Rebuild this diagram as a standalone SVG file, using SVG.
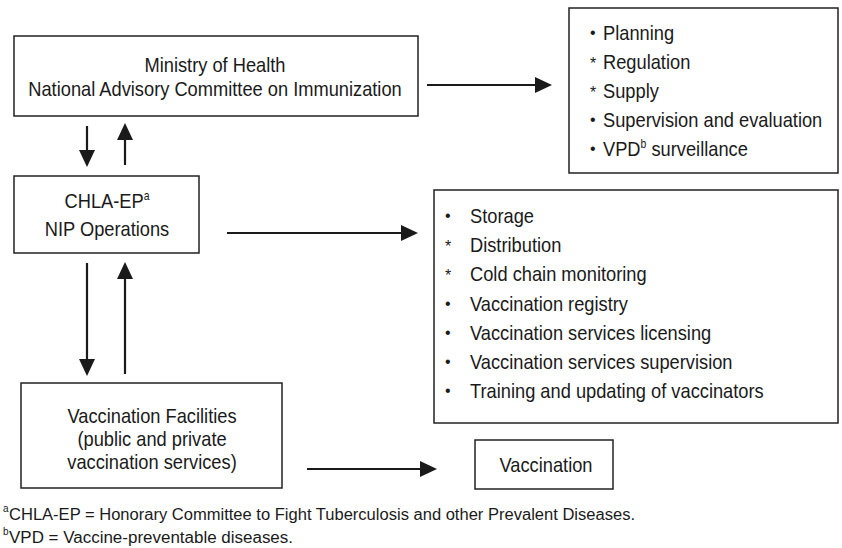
<svg xmlns="http://www.w3.org/2000/svg" width="842" height="548" viewBox="0 0 842 548">
  <style>
    .box { fill: #ffffff; stroke: #222222; stroke-width: 1.5; }
    .t { font-family: "Liberation Sans", Arial, Helvetica, sans-serif; font-size: 21px; fill: #1a1a1a; }
    .b { font-family: "Liberation Sans", Arial, Helvetica, sans-serif; font-size: 16px; fill: #1a1a1a; }
    .c { text-anchor: middle; }
    .sup { font-size: 12px; }
    .fn { font-family: "Liberation Sans", Arial, Helvetica, sans-serif; font-size: 16px; fill: #1a1a1a; }
    .fnsup { font-family: "Liberation Sans", Arial, Helvetica, sans-serif; font-size: 10px; fill: #1a1a1a; }
    .conn line { stroke: #1a1a1a; stroke-width: 2.2; marker-end: url(#head); }
  </style>
  <defs>
    <marker id="head" markerUnits="userSpaceOnUse" markerWidth="17" markerHeight="16" refX="7" refY="8" orient="auto">
      <path d="M0,0 L17,8 L0,16 Z" fill="#1a1a1a"/>
    </marker>
  </defs>

  <!-- Ministry of Health -->
  <g id="ministry">
    <rect class="box" x="14" y="36" width="404" height="80"/>
    <g transform="translate(215,0) scale(0.87,1)">
      <text class="t c" x="0" y="72">Ministry of Health</text>
      <text class="t c" x="0" y="96">National Advisory Committee on Immunization</text>
    </g>
  </g>

  <!-- Planning / regulation functions -->
  <g id="ministry-functions">
    <rect class="box" x="569" y="8" width="269" height="165"/>
    <g transform="translate(590,0)">
      <text class="b" x="0" y="38">•</text>
      <text class="b" x="0" y="69">*</text>
      <text class="b" x="0" y="98">*</text>
      <text class="b" x="0" y="125">•</text>
      <text class="b" x="0" y="154">•</text>
    </g>
    <g transform="translate(603,0) scale(0.87,1)">
      <text class="t" x="0" y="40">Planning</text>
      <text class="t" x="0" y="69">Regulation</text>
      <text class="t" x="0" y="98">Supply</text>
      <text class="t" x="0" y="127">Supervision and evaluation</text>
      <text class="t" x="0" y="156">VPD<tspan class="sup" dy="-8">b</tspan><tspan dy="8"> surveillance</tspan></text>
    </g>
  </g>

  <!-- CHLA-EP -->
  <g id="chla">
    <rect class="box" x="14" y="176" width="185" height="77"/>
    <g transform="translate(107,0) scale(0.87,1)">
      <text class="t c" x="0" y="208">CHLA-EP<tspan class="sup" dy="-8">a</tspan></text>
      <text class="t c" x="0" y="236">NIP Operations</text>
    </g>
  </g>

  <!-- Operational functions -->
  <g id="operations">
    <rect class="box" x="434" y="190" width="404" height="233"/>
    <g transform="translate(445,0)">
      <text class="b" x="0" y="221">•</text>
      <text class="b" x="0" y="252">*</text>
      <text class="b" x="0" y="281">*</text>
      <text class="b" x="0" y="309">•</text>
      <text class="b" x="0" y="338">•</text>
      <text class="b" x="0" y="367">•</text>
      <text class="b" x="0" y="396">•</text>
    </g>
    <g transform="translate(470,0) scale(0.87,1)">
      <text class="t" x="0" y="223">Storage</text>
      <text class="t" x="0" y="252">Distribution</text>
      <text class="t" x="0" y="281">Cold chain monitoring</text>
      <text class="t" x="0" y="311">Vaccination registry</text>
      <text class="t" x="0" y="340">Vaccination services licensing</text>
      <text class="t" x="0" y="369">Vaccination services supervision</text>
      <text class="t" x="0" y="398">Training and updating of vaccinators</text>
    </g>
  </g>

  <!-- Vaccination facilities -->
  <g id="facilities">
    <rect class="box" x="21" y="383" width="261" height="105"/>
    <g transform="translate(152,0) scale(0.87,1)">
      <text class="t c" x="0" y="423">Vaccination Facilities</text>
      <text class="t c" x="0" y="446">(public and private</text>
      <text class="t c" x="0" y="469">vaccination services)</text>
    </g>
  </g>

  <!-- Vaccination -->
  <g id="vaccination">
    <rect class="box" x="475" y="440" width="138" height="49"/>
    <g transform="translate(546,0) scale(0.87,1)">
      <text class="t c" x="0" y="472">Vaccination</text>
    </g>
  </g>

  <!-- Connectors -->
  <g id="connectors" class="conn">
    <line x1="427" y1="85" x2="542" y2="85"/>
    <line x1="87" y1="126" x2="87" y2="157"/>
    <line x1="125" y1="165" x2="125" y2="133"/>
    <line x1="227" y1="233" x2="408" y2="233"/>
    <line x1="87" y1="263" x2="87" y2="366"/>
    <line x1="125" y1="374" x2="125" y2="272"/>
    <line x1="307" y1="469" x2="427" y2="469"/>
  </g>

  <!-- Footnotes -->
  <g id="footnotes">
    <text class="fnsup" x="3" y="512">a</text>
    <text class="fn" x="9" y="520" textLength="626" lengthAdjust="spacingAndGlyphs">CHLA-EP = Honorary Committee to Fight Tuberculosis and other Prevalent Diseases.</text>
    <text class="fnsup" x="3" y="535">b</text>
    <text class="fn" x="9" y="543" textLength="284" lengthAdjust="spacingAndGlyphs">VPD = Vaccine-preventable diseases.</text>
  </g>
</svg>
